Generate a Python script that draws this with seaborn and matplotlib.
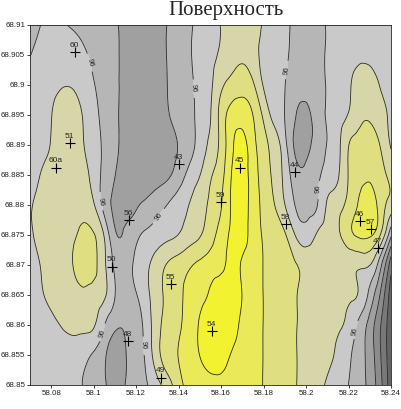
import numpy as np
import pandas as pd
import matplotlib
matplotlib.use("Agg")
import matplotlib.pyplot as plt
from matplotlib.colors import ListedColormap, BoundaryNorm
from matplotlib.ticker import FuncFormatter, MultipleLocator
from matplotlib.tri import Triangulation, UniformTriRefiner
import seaborn as sns

# узлы сетки (долгота / широта), строки сверху вниз
grid_x = np.linspace(58.07, 58.24, 35)
grid_y = np.linspace(68.91, 68.85, 13)

# значения поверхности
surface = [
    [95.7, 96.0, 96.45, 96.15, 95.86, 95.66, 95.46, 95.26, 95.06, 94.84, 94.6, 94.6, 94.8, 95.04, 95.45, 95.86, 96.26, 96.65, 97.03, 97.3, 97.45, 97.25, 96.93, 96.56, 96.18, 95.8, 95.45, 95.7, 96.06, 96.25, 96.4, 96.5, 96.5, 96.4, 96.3],
    [95.98, 96.25, 96.5, 96.65, 96.6, 96.2, 95.8, 95.45, 95.1, 94.85, 94.6, 94.6, 94.8, 95.05, 95.47, 95.9, 96.32, 96.74, 97.15, 97.6, 97.8, 97.35, 96.8, 96.46, 96.12, 95.75, 95.5, 95.7, 96.08, 96.35, 96.6, 96.8, 96.8, 96.65, 96.4],
    [96.3, 96.5, 96.75, 96.95, 96.95, 96.6, 96.05, 95.6, 95.13, 94.85, 94.6, 94.55, 94.75, 95.02, 95.4, 95.8, 96.26, 96.82, 97.8, 98.35, 98.6, 98.15, 96.92, 96.46, 96.02, 95.55, 95.32, 95.55, 96.09, 96.46, 96.85, 97.4, 97.4, 96.95, 96.6],
    [96.4, 96.6, 96.97, 97.4, 97.4, 96.95, 96.3, 95.7, 95.15, 94.8, 94.55, 94.45, 94.6, 94.95, 95.34, 95.75, 96.27, 96.97, 98.4, 99.4, 99.6, 98.99, 97.78, 96.7, 95.98, 95.05, 94.75, 95.5, 96.07, 96.58, 97.05, 97.7, 97.85, 97.4, 96.8],
    [96.5, 96.7, 97.05, 97.45, 97.5, 97.05, 96.45, 95.8, 95.18, 94.75, 94.45, 94.3, 94.4, 94.7, 95.05, 95.67, 96.38, 97.26, 98.33, 99.78, 100.3, 99.35, 98.38, 97.52, 96.33, 94.8, 94.75, 95.37, 96.03, 96.7, 97.97, 98.45, 98.5, 97.95, 96.9],
    [96.7, 97.02, 97.35, 97.55, 97.5, 97.3, 96.62, 95.7, 95.02, 94.6, 94.35, 94.35, 94.55, 94.85, 95.48, 96.29, 96.98, 97.88, 98.66, 100.05, 100.45, 99.5, 98.6, 97.72, 96.7, 95.4, 95.2, 95.75, 96.34, 96.9, 98.05, 98.7, 98.85, 98.35, 97.7],
    [96.95, 97.15, 97.35, 97.5, 97.65, 97.7, 97.1, 95.62, 94.8, 94.5, 94.85, 95.25, 95.65, 96.05, 96.54, 97.02, 97.58, 98.19, 98.95, 100.15, 100.45, 99.57, 98.75, 98.04, 97.02, 95.95, 95.5, 95.92, 97.12, 97.65, 98.32, 99.12, 99.5, 98.6, 97.6],
    [96.9, 97.18, 97.44, 97.69, 97.85, 98.2, 98.05, 96.9, 95.15, 95.2, 95.8, 96.18, 96.46, 96.74, 97.03, 97.48, 97.92, 98.61, 99.44, 100.2, 100.35, 99.57, 98.9, 98.5, 98.1, 96.95, 96.45, 97.07, 97.45, 97.82, 98.65, 99.15, 99.15, 97.98, 95.2],
    [96.6, 97.02, 97.34, 97.66, 97.98, 98.45, 98.25, 97.2, 95.8, 95.6, 96.19, 96.82, 97.5, 98.11, 98.49, 98.87, 99.2, 99.5, 99.8, 100.2, 99.9, 99.43, 98.98, 98.66, 98.35, 98.04, 97.8, 97.65, 97.55, 97.45, 97.3, 97.15, 97.02, 95.3, 92.4],
    [96.6, 96.9, 97.2, 97.45, 97.7, 97.85, 97.6, 97.15, 96.02, 95.55, 95.95, 96.75, 97.62, 98.29, 98.8, 99.27, 99.7, 100.15, 100.55, 100.4, 99.98, 99.48, 98.98, 98.66, 98.35, 98.04, 97.85, 97.68, 97.5, 97.33, 97.15, 96.9, 95.7, 93.9, 91.5],
    [96.35, 96.55, 96.8, 97.05, 97.25, 97.3, 97.1, 96.05, 95.2, 95.15, 95.6, 96.43, 97.69, 98.37, 98.85, 99.46, 100.1, 100.6, 100.65, 100.35, 99.82, 99.4, 98.98, 98.66, 98.35, 98.04, 97.81, 97.59, 97.37, 97.15, 96.68, 95.76, 94.62, 93.07, 91.3],
    [96.3, 96.4, 96.5, 96.55, 96.5, 96.3, 95.88, 95.17, 94.5, 94.95, 95.55, 96.27, 97.69, 98.45, 99.04, 99.5, 100.02, 100.4, 100.35, 99.94, 99.62, 99.3, 98.98, 98.66, 98.35, 98.04, 97.76, 97.48, 97.2, 96.82, 96.2, 95.47, 94.56, 93.07, 91.3],
    [96.25, 96.3, 96.35, 96.3, 96.15, 95.98, 95.53, 95.1, 94.6, 95.04, 95.53, 95.96, 96.63, 97.57, 98.68, 99.2, 99.5, 99.7, 99.7, 99.55, 99.35, 99.15, 98.98, 98.66, 98.35, 98.04, 97.66, 97.29, 96.89, 96.43, 95.99, 95.4, 94.7, 93.3, 91.4],
]

# точки наблюдений
point_names = ["60", "51", "60a", "43", "45", "59", "44", "56", "58", "46", "57", "47", "50", "55", "54", "48", "49"]
point_x = [58.0912, 58.0888, 58.0824, 58.1402, 58.1689, 58.1600, 58.1948, 58.1167, 58.1906,
           58.2254, 58.2306, 58.2339, 58.1087, 58.1365, 58.1558, 58.1162, 58.1318]
point_y = [68.9055, 68.8903, 68.8862, 68.8868, 68.8862, 68.8805, 68.8855, 68.8775, 68.8768,
           68.8773, 68.8760, 68.8728, 68.8697, 68.8668, 68.8590, 68.8573, 68.8512]

levels = [90, 92, 93, 94, 95, 96, 97, 98, 99, 100, 102]
line_levels = [92, 93, 94, 95, 97, 98, 99, 100]
label_level = [96]
band_colors = ["#646464", "#787878", "#8c8c8c", "#a0a0a0", "#b6b6b6",
               "#c9c9c9", "#d6d6a8", "#dfdf82", "#e9e95a", "#f2f230"]

# где стоят подписи изолинии 96
label_spots = [(58.0987, 68.9037), (58.1463, 68.8995), (58.1901, 68.9025),
               (58.1030, 68.8805), (58.1298, 68.8783), (58.2033, 68.8828),
               (58.1020, 68.8588), (58.1227, 68.8567), (58.2245, 68.8588)]

sns.set_style("ticks")
plt.rcParams["font.family"] = ["Liberation Sans", "DejaVu Sans"]

fig = plt.figure(figsize=(4.01, 4.09), dpi=100)
ax = fig.add_axes([30 / 401, 24 / 409, 361 / 401, 360 / 409])

# сетка -> треугольники, сглаживание кубическим интерполятором matplotlib
X, Y = np.meshgrid(grid_x, grid_y)
Z = np.array(surface)
ny, nx = Z.shape
idx = np.arange(ny * nx).reshape(ny, nx)
a, b = idx[:-1, :-1].ravel(), idx[:-1, 1:].ravel()
c, d = idx[1:, :-1].ravel(), idx[1:, 1:].ravel()
triangles = np.concatenate([np.stack([a, b, d], 1), np.stack([a, d, c], 1)])
triang = Triangulation(X.ravel(), Y.ravel(), triangles)
tri_fine, z_fine = UniformTriRefiner(triang).refine_field(Z.ravel(), subdiv=3)

cmap = ListedColormap(band_colors)
norm = BoundaryNorm(levels, cmap.N)
ax.tricontourf(tri_fine, z_fine, levels=levels, cmap=cmap, norm=norm)
ax.tricontour(tri_fine, z_fine, levels=line_levels, colors="#2a2a2a", linewidths=0.6)
cs96 = ax.tricontour(tri_fine, z_fine, levels=label_level, colors="#2a2a2a", linewidths=0.6)
ax.clabel(cs96, fmt="%d", fontsize=5.5, inline=True, manual=label_spots)

df = pd.DataFrame({"name": point_names, "x": point_x, "y": point_y})
sns.scatterplot(data=df, x="x", y="y", marker="+", s=60, color="black",
                linewidth=0.8, ax=ax, legend=False, zorder=5)
for name, px, py in zip(df.name, df.x, df.y):
    ax.annotate(name, (px, py), xytext=(-0.5, 2.5), textcoords="offset points",
                ha="center", va="bottom", fontsize=6, zorder=6)

ax.set_xlim(58.07, 58.24)
ax.set_ylim(68.85, 68.91)
ax.xaxis.set_major_locator(MultipleLocator(0.02))
ax.yaxis.set_major_locator(MultipleLocator(0.005))
fmt = FuncFormatter(lambda v, p: f"{v:g}")
ax.xaxis.set_major_formatter(fmt)
ax.yaxis.set_major_formatter(fmt)
ax.set_xlabel("")
ax.set_ylabel("")
ax.tick_params(labelsize=5.7, length=2.5, width=0.6, pad=1, colors="#222222")
for sp in ax.spines.values():
    sp.set_linewidth(0.6)
    sp.set_color("#222222")

fig.text(0.5625, 0.963, "Поверхность", ha="center", va="baseline",
         fontsize=15, family=["Liberation Serif", "DejaVu Serif"])

fig.savefig("out.png", dpi=100)
